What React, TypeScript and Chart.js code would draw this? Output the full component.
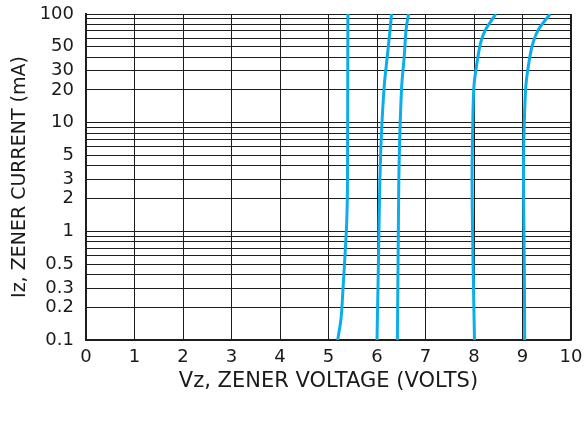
import { useEffect, useRef } from 'react';
import { Chart, registerables } from 'chart.js';

Chart.register(...registerables);

// Axis definitions
const xTickValues = [0, 1, 2, 3, 4, 5, 6, 7, 8, 9, 10];
const yGridValues = [
  0.1, 0.2, 0.3, 0.4, 0.5, 0.6, 0.7, 0.8, 0.9,
  1, 2, 3, 4, 5, 6, 7, 8, 9,
  10, 20, 30, 40, 50, 60, 70, 80, 90, 100,
];
const yLabelValues = [0.1, 0.2, 0.3, 0.5, 1, 2, 3, 5, 10, 20, 30, 50, 100];

// Curves: Vz (volts) vs Iz (mA)
const curve1Volts = [5.19, 5.26, 5.30, 5.34, 5.375, 5.39, 5.395, 5.40];
const curve1Current = [0.1, 0.16, 0.3, 0.6, 1.2, 2.3, 10, 100];

const curve2Volts = [6.0, 6.02, 6.04, 6.06, 6.09, 6.15, 6.21, 6.27, 6.30];
const curve2Current = [0.1, 0.3, 1, 3, 7.6, 22, 40, 72, 100];

const curve3Volts = [6.42, 6.43, 6.44, 6.45, 6.47, 6.51, 6.56, 6.60, 6.65];
const curve3Current = [0.1, 0.3, 1, 3, 7.6, 22, 40, 72, 100];

const curve4Volts = [8.01, 7.99, 7.97, 7.96, 7.97, 8.0, 8.08, 8.14, 8.24, 8.45];
const curve4Current = [0.1, 0.3, 1, 3, 7.6, 22, 40, 55, 72, 100];

const curve5Volts = [9.045, 9.04, 9.03, 9.02, 9.03, 9.07, 9.15, 9.22, 9.33, 9.57];
const curve5Current = [0.1, 0.3, 1, 3, 7.6, 22, 40, 55, 72, 100];

const curves = [
  [curve1Volts, curve1Current],
  [curve2Volts, curve2Current],
  [curve3Volts, curve3Current],
  [curve4Volts, curve4Current],
  [curve5Volts, curve5Current],
];

const LINE_COLOR = '#0BAEEA';
const GRID_COLOR = '#1e1e1e';
const TEXT_COLOR = '#1a1a1a';

export default function App() {
  const canvasRef = useRef<HTMLCanvasElement | null>(null);

  useEffect(() => {
    if (!canvasRef.current) return;
    const datasets = curves.map(([vs, is], idx) => ({
      label: `curve${idx + 1}`,
      data: vs.map((v, i) => ({ x: v, y: is[i] })),
      borderColor: LINE_COLOR,
      backgroundColor: LINE_COLOR,
      borderWidth: 3,
      pointRadius: 0,
      tension: 0.3,
      fill: false,
    }));

    const chart = new Chart(canvasRef.current, {
      type: 'line',
      data: { datasets },
      options: {
        animation: false,
        responsive: false,
        maintainAspectRatio: false,
        layout: { padding: { top: 14, right: 13, left: 0, bottom: 0 } },
        plugins: {
          legend: { display: false },
          tooltip: { enabled: false },
        },
        scales: {
          x: {
            type: 'linear',
            min: 0,
            max: 10,
            afterBuildTicks: (scale: any) => {
              scale.ticks = xTickValues.map((v) => ({ value: v }));
            },
            afterFit: (scale: any) => {
              scale.height = 92;
              scale.paddingLeft = 0;
              scale.paddingRight = 0;
            },
            ticks: {
              autoSkip: false,
              maxRotation: 0,
              padding: 7,
              color: TEXT_COLOR,
              font: { family: 'DejaVu Sans', size: 18 },
              callback: (v: any) => String(v),
            },
            grid: {
              color: GRID_COLOR,
              lineWidth: (ctx: any) => (ctx.tick && ctx.tick.value === 10 ? 2 : 1),
              drawTicks: false,
            },
            border: { display: true, color: GRID_COLOR, width: 1.5 },
            title: {
              display: true,
              text: 'Vz, ZENER VOLTAGE (VOLTS)',
              color: TEXT_COLOR,
              font: { family: 'DejaVu Sans', size: 21 },
              padding: { top: 4, bottom: 38 },
            },
          },
          y: {
            type: 'logarithmic',
            min: 0.1,
            max: 100,
            afterBuildTicks: (scale: any) => {
              scale.ticks = yGridValues.map((v) => ({ value: v }));
            },
            afterFit: (scale: any) => {
              scale.width = 86;
              scale.paddingTop = 0;
              scale.paddingBottom = 0;
            },
            ticks: {
              autoSkip: false,
              padding: 12,
              color: TEXT_COLOR,
              font: { family: 'DejaVu Sans', size: 18 },
              callback: (v: any) => (yLabelValues.includes(v) ? String(v) : ''),
            },
            grid: {
              color: GRID_COLOR,
              lineWidth: 1,
              drawTicks: false,
            },
            border: { display: true, color: GRID_COLOR, width: 2 },
            title: {
              display: true,
              text: 'Iz, ZENER CURRENT (mA)',
              color: TEXT_COLOR,
              font: { family: 'DejaVu Sans', size: 19 },
              padding: { top: 9, bottom: 0 },
            },
          },
        },
      },
    });
    return () => chart.destroy();
  }, []);

  return (
    <div style={{ position: 'fixed', left: 0, top: 0, width: 584, height: 432, background: '#fff' }}>
      <canvas ref={canvasRef} width={584} height={432} style={{ display: 'block' }} />
    </div>
  );
}
